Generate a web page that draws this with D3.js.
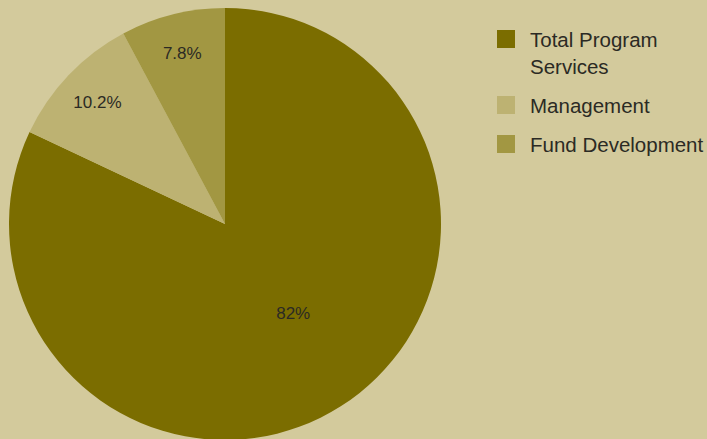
<!DOCTYPE html>
<html>
<head>
<meta charset="utf-8">
<script src="https://cdn.jsdelivr.net/npm/d3@7"></script>
<style>
  html, body { margin: 0; padding: 0; background: #d3ca9c; }
  svg { display: block; }
</style>
</head>
<body>
<div id="main"></div>
<script>
const categories = ["Total Program Services", "Management", "Fund Development"];
const legendLines = [["Total Program", "Services"], ["Management"], ["Fund Development"]];
const values = [82, 10.2, 7.8];
const valueLabels = ["82%", "10.2%", "7.8%"];
const colors = ["#7b6d00", "#bdb272", "#a29742"];

const ctx = {
    width: 707,
    height: 439,
    cx: 225,
    cy: 224,
    radius: 216,
    textColor: "#2b2a24",
    font: "'Liberation Sans', Arial, sans-serif"
};

let svg = d3.select("#main").append("svg")
    .attr("width", ctx.width)
    .attr("height", ctx.height);

svg.append("rect")
    .attr("width", ctx.width)
    .attr("height", ctx.height)
    .attr("fill", "#d3ca9c");

let pie = d3.pie().sort(null).value(d => d);
let arcs = pie(values);
let arc = d3.arc().innerRadius(0).outerRadius(ctx.radius);

let pieG = svg.append("g")
    .attr("transform", "translate(" + ctx.cx + "," + ctx.cy + ")");

pieG.selectAll("path")
    .data(arcs)
    .enter()
    .append("path")
    .attr("d", arc)
    .attr("fill", (d, i) => colors[i]);

// big slice label sits closer to the centre, a bit ahead of the mid angle
pieG.selectAll("text")
    .data(arcs)
    .enter()
    .append("text")
    .attr("transform", d => {
        let big = d.data > 50;
        let r = big ? ctx.radius * 0.52 : ctx.radius * 0.815;
        let a = (d.startAngle + d.endAngle) / 2 - (big ? 5 * Math.PI / 180 : 0);
        return "translate(" + (Math.sin(a) * r) + "," + (-Math.cos(a) * r) + ")";
    })
    .attr("text-anchor", "middle")
    .attr("dominant-baseline", "central")
    .attr("font-family", ctx.font)
    .attr("font-size", "17px")
    .attr("fill", ctx.textColor)
    .text((d, i) => valueLabels[i]);

let legendY = [30, 96, 135];
let legendG = svg.append("g");
categories.forEach((c, i) => {
    legendG.append("rect")
        .attr("x", 497)
        .attr("y", legendY[i])
        .attr("width", 18)
        .attr("height", 18)
        .attr("fill", colors[i]);
    legendLines[i].forEach((line, j) => {
        legendG.append("text")
            .attr("x", 530)
            .attr("y", legendY[i] + 17 + j * 27)
            .attr("font-family", ctx.font)
            .attr("font-size", "20.5px")
            .attr("fill", ctx.textColor)
            .text(line);
    });
});
</script>
</body>
</html>
